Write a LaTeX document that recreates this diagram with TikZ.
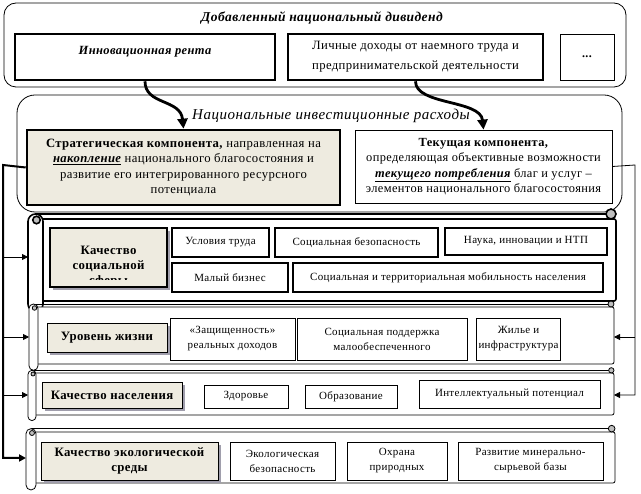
\documentclass[tikz,border=0pt]{standalone}
\usepackage{fontspec}
\setmainfont{Liberation Serif}[LetterSpace=3]
\usetikzlibrary{arrows.meta,shadows}
\definecolor{beige}{RGB}{238,235,224}
\definecolor{curlgray}{RGB}{190,190,190}
\definecolor{shade}{RGB}{160,158,172}
% horizontal scroll: [style](left, body top, right, body bottom, roll width)
\def\hscroll[#1](#2,#3,#4,#5,#6){%
	\draw[#1] ({#2+#6/2},{#3-#6/3}) -- ({#4-#6/3},{#3-#6/3});
	\draw[#1,fill=white,rounded corners=2pt] ({#2+#6/2},#3) -- (#4,#3) -- (#4,#5) -- ({#2+#6/2},#5);
	\draw[#1,fill=curlgray] ({#4-#6/3},{#3-#6/3}) circle ({#6/3});
	\draw[#1,fill=white,rounded corners=#6*0.5pt] (#2,{#3-#6/3}) rectangle ({#2+#6},{#5+#6*0.7});
	\draw[#1,fill=curlgray] ({#2+#6/2+1},{#3+1}) circle ({#6/4});
}
\tikzset{
	box/.style={draw, line width=0.8pt, inner sep=2pt, align=center, font=\fontsize{11}{15}\selectfont},
	fatbox/.style={box, line width=1.6pt},
	rentbox/.style={box, line width=2.6pt},
	headbox/.style={box, fill=beige, font=\fontsize{12.8}{15}\selectfont\bfseries,
		drop shadow={shadow xshift=3pt, shadow yshift=-3pt, fill=shade, opacity=1}},
	bigtext/.style={font=\fontsize{12.7}{15.5}\selectfont},
	title/.style={font=\fontsize{15}{17}\selectfont\itshape\addfontfeature{LetterSpace=3.5}},
	wave/.style={line width=2.8pt, -{Triangle[length=10pt,width=10pt]}},
	bus/.style={line width=0.8pt},
	feed/.style={line width=0.8pt, -{Triangle[length=6pt,width=6pt]}}
}

\begin{document}
\begin{tikzpicture}[x=1pt,y=-1pt]
	\useasboundingbox (0,0) rectangle (641,494);
	%%%%% START %%%%%
	% national dividend
	\draw[line width=0.8pt, rounded corners=12pt] (4,3) rectangle (626,87);
	\node[font=\fontsize{13.5}{16}\selectfont\bfseries\itshape] (dividend) at (322,18) {Добавленный национальный дивиденд};
	\node[rentbox, font=\fontsize{12.5}{15}\selectfont\bfseries\itshape, minimum width=260pt, minimum height=46pt] (rent) at (145,57) {\raisebox{5pt}[\height][\depth]{Инновационная рента}};
	\node[rentbox, font=\fontsize{12.7}{20}\selectfont, minimum width=255pt, minimum height=46pt] (income) at (415.5,57) {Личные доходы от наемного труда и\\предпринимательской деятельности};
	\node[box, font=\fontsize{12}{15}\selectfont\bfseries, minimum width=54pt, minimum height=46pt] (more) at (587,57) {...};
	
	% national investment spending
	\draw[line width=0.8pt, rounded corners=18pt] (17,95) rectangle (622,212);
	\node[title] (spending) at (331,116) {Национальные инвестиционные расходы};
	\node[rentbox, bigtext, fill=beige, minimum width=313pt, minimum height=75pt] (strat) at (183.5,167.5) {\textbf{Стратегическая компонента,} направленная на\\\textbf{\textit{\underline{накопление}}} национального благосостояния и\\развитие его интегрированного ресурсного\\потенциала};
	\node[box, font=\fontsize{12.4}{15.5}\selectfont, minimum width=257pt, minimum height=73pt] (current) at (483.5,166.5) {\textbf{Текущая компонента,}\\определяющая объективные возможности\\\textbf{\textit{\underline{текущего потребления}}} благ и услуг –\\элементов национального благосостояния};
	
	\draw[wave] (rent.south) .. controls +(0,24) and +(-3,-30) .. (strat.north);
	\draw[wave] (income.south) .. controls +(0,24) and +(-3,-30) .. (current.north);
	
	% scrolls
	\hscroll[line width=1.6pt](28,219,616,301,15);
	\hscroll[line width=0.8pt](29,307,614,364,9);
	\hscroll[line width=0.8pt](28,373,614,415,8);
	\hscroll[line width=0.8pt](26,432,615,483,10);
	
	% social sphere
	\node[headbox, line width=1.6pt, minimum width=117pt, minimum height=59pt] (social) at (108.5,257.5) {};
	\begin{scope}
		\clip (50,228) rectangle (167,279.5);
		\node[align=center, font=\fontsize{12.8}{15}\selectfont\bfseries] (socialtext) at (108.5,266.5) {Качество\\социальной\\сферы};
	\end{scope}
	\node[fatbox, minimum width=97pt, minimum height=29pt] (labour) at (220.5,242.5) {Условия труда};
	\node[fatbox, minimum width=163pt, minimum height=29pt] (safety) at (356.5,242.5) {Социальная безопасность};
	\node[fatbox, minimum width=162pt, minimum height=27pt] (science) at (526,241.5) {Наука, инновации и НТП};
	\node[fatbox, minimum width=116pt, minimum height=29pt] (business) at (230,277.5) {Малый бизнес};
	\node[fatbox, minimum width=310pt, minimum height=29pt] (mobility) at (448,277.5) {Социальная и территориальная мобильность населения};
	
	% living standard
	\node[headbox, minimum width=120pt, minimum height=29pt] (living) at (107,337.5) {Уровень жизни};
	\node[box, minimum width=125pt, minimum height=42pt] (incomes) at (232.5,339) {«Защищенность»\\реальных доходов};
	\node[box, minimum width=170pt, minimum height=42pt] (support) at (382,339) {Социальная поддержка\\малообеспеченного};
	\node[box, minimum width=79pt, minimum height=42pt] (housing) at (518.5,339) {Жилье и\\инфраструктура};
	
	% population
	\node[headbox, minimum width=140pt, minimum height=26pt] (people) at (112,395) {Качество населения};
	\node[box, minimum width=84pt, minimum height=23pt] (health) at (246,396.5) {Здоровье};
	\node[box, minimum width=92pt, minimum height=23pt] (education) at (351,396.5) {Образование};
	\node[box, minimum width=181pt, minimum height=28pt] (intellect) at (509.5,394) {Интеллектуальный потенциал};
	
	% environment
	\node[headbox, minimum width=177pt, minimum height=38pt] (ecology) at (129.5,461) {Качество экологической\\среды};
	\node[box, minimum width=105pt, minimum height=38pt] (ecosafety) at (282.5,461) {Экологическая\\безопасность};
	\node[box, minimum width=100pt, minimum height=38pt] (nature) at (397,461) {Охрана\\природных};
	\node[box, minimum width=145pt, minimum height=38pt] (minerals) at (530.5,461) {Развитие минерально-\\сырьевой базы};
	
	% connectors
	\coordinate (lbus) at (3,165);
	\coordinate (in1) at (28,257);
	\coordinate (in2) at (29,337);
	\coordinate (in3) at (28,395);
	\coordinate (in4) at (26,458);
	\coordinate (rbus) at (635,165);
	\coordinate (out2) at (614,337);
	\coordinate (out3) at (614,395);
	
	\draw[line width=2pt, -{Triangle[length=7pt,width=7pt]}] (strat.west) -- (lbus) |- (in4);
	\foreach \s in {in1,in2,in3}
		\draw[feed] (\s -| lbus) -- (\s);
	\draw[bus, -{Triangle[length=6pt,width=6pt]}] (current.east) -- (rbus) |- (out3);
	\draw[feed] (out2 -| rbus) -- (out2);
	%%%%% END %%%%%
\end{tikzpicture}
\end{document}
